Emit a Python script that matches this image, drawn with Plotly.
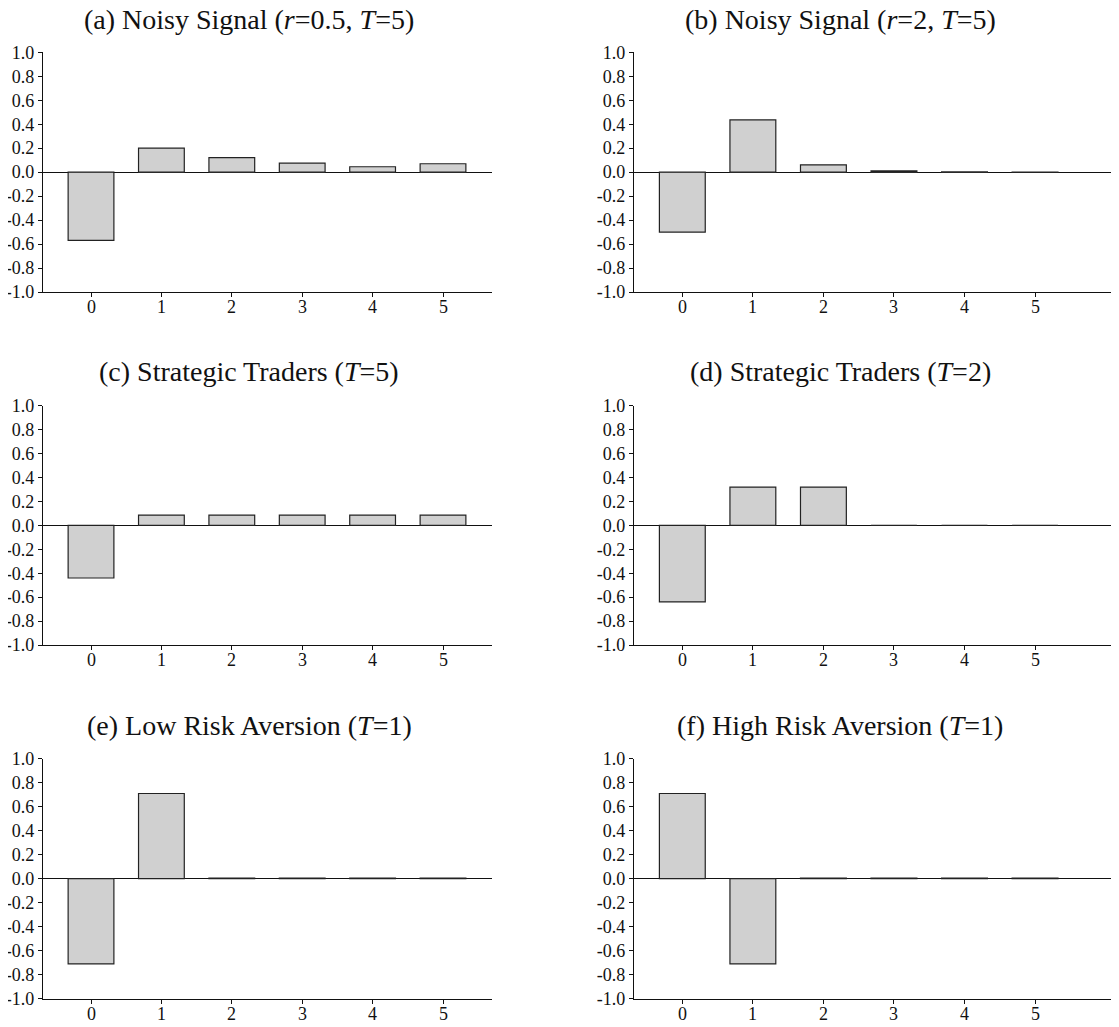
import plotly.graph_objects as go

# the page body adds an 8px margin; lay out in screen pixels and shift
OFF = 8
W, H = 1119 - OFF, 1027 - OFF

lags = [0, 1, 2, 3, 4, 5]
x_ticktext = ["0", "1", "2", "3", "4", "5"]
y_tickvals = [1.0, 0.8, 0.6, 0.4, 0.2, 0.0, -0.2, -0.4, -0.6, -0.8, -1.0]
y_ticktext = ["1.0", "0.8", "0.6", "0.4", "0.2", "0.0", "-0.2", "-0.4", "-0.6", "-0.8", "-1.0"]

titles = [
    "(a) Noisy Signal (<i>r</i>=0.5, <i>T</i>=5)",
    "(b) Noisy Signal (<i>r</i>=2, <i>T</i>=5)",
    "(c) Strategic Traders (<i>T</i>=5)",
    "(d) Strategic Traders (<i>T</i>=2)",
    "(e) Low Risk Aversion (<i>T</i>=1)",
    "(f) High Risk Aversion (<i>T</i>=1)",
]

vals_a = [-0.57, 0.20, 0.122, 0.075, 0.045, 0.07]
vals_b = [-0.50, 0.436, 0.061, 0.01, 0.002, -0.003]
vals_c = [-0.44, 0.086, 0.086, 0.086, 0.086, 0.086]
vals_d = [-0.64, 0.32, 0.32, 0.0, 0.0, 0.0]
vals_e = [-0.71, 0.71, 0.005, 0.005, 0.005, 0.005]
vals_f = [0.71, -0.71, 0.004, 0.004, 0.004, 0.004]

series = [vals_a, vals_b, vals_c, vals_d, vals_e, vals_f]

# layout geometry (screen pixels)
col_x = [(43, 492), (634, 1119)]
col_range = [(-0.682, 5.696), (-0.685, 6.19)]
row_y = [(52.3, 292), (405.7, 645), (758.7, 998.7)]
title_cx = [249, 840]
title_cy = [20, 371.7, 725]


def px(v):
    return v - OFF


tick_font = dict(family="Liberation Serif, Times New Roman, serif", size=18, color="#111")
title_font = dict(family="Liberation Serif, Times New Roman, serif", size=28, color="#111")

fig = go.Figure()
layout = dict(
    template="none",
    width=W, height=H,
    margin=dict(l=0, r=0, t=0, b=0, pad=0),
    paper_bgcolor="white", plot_bgcolor="white",
    showlegend=False,
    annotations=[],
)

for i, vals in enumerate(series):
    r, c = divmod(i, 2)
    n = i + 1
    xa = "x" if n == 1 else f"x{n}"
    ya = "y" if n == 1 else f"y{n}"
    fig.add_trace(go.Bar(
        x=lags, y=vals, width=0.65,
        marker=dict(color="#d0d0d0", line=dict(color="#222", width=1.2)),
        xaxis=xa, yaxis=ya,
    ))
    x0, x1 = col_x[c]
    y0, y1 = row_y[r]
    layout[f"xaxis{n if n > 1 else ''}"] = dict(
        domain=[px(x0) / W, min(px(x1) / W, 1.0)], anchor=ya, range=list(col_range[c]),
        tickvals=lags, ticks="outside", ticklen=4, showticklabels=False,
        tickcolor="#111", tickwidth=1, showline=True, linecolor="#111", linewidth=1.3,
        showgrid=False, zeroline=False, fixedrange=True, automargin=False,
    )
    layout[f"yaxis{n if n > 1 else ''}"] = dict(
        domain=[1 - px(y1) / H, 1 - px(y0) / H], anchor=xa, range=[-1, 1],
        tickvals=y_tickvals, ticktext=y_ticktext, ticks="outside", ticklen=4,
        tickcolor="#111", tickwidth=1, showline=True, linecolor="#111", linewidth=1.3,
        showgrid=False, zeroline=True, zerolinecolor="#111", zerolinewidth=1.3,
        tickfont=tick_font, fixedrange=True, automargin=False,
    )
    # x tick labels placed on the x scale just below the axis
    for lag, lab in zip(lags, x_ticktext):
        layout["annotations"].append(dict(
            text=lab, x=lag, xref=xa, y=0, yref=f"{ya} domain",
            xanchor="center", yanchor="middle", yshift=-15,
            showarrow=False, font=tick_font,
        ))
    layout["annotations"].append(dict(
        text=titles[i], x=px(title_cx[c]) / W, y=1 - px(title_cy[r]) / H,
        xref="paper", yref="paper", xanchor="center", yanchor="middle",
        showarrow=False, font=title_font,
    ))

fig.update_layout(**layout)
fig.write_html("out.html")
